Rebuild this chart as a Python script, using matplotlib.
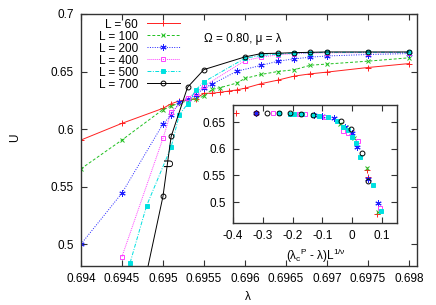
import matplotlib
matplotlib.use("Agg")
import matplotlib.pyplot as plt
from matplotlib.ticker import FixedLocator

plt.rcParams['font.family'] = ['Liberation Sans', 'DejaVu Sans']
plt.rcParams['mathtext.fontset'] = 'custom'
plt.rcParams['mathtext.rm'] = 'Liberation Sans'
plt.rcParams['mathtext.it'] = 'Liberation Sans'
plt.rcParams['mathtext.bf'] = 'Liberation Sans'

# ---------------- main panel data ----------------
labels = ["L = 60", "L = 100", "L = 200", "L = 400", "L = 500", "L = 700"]

x_L60 = [0.694, 0.6945, 0.695, 0.6951, 0.6952, 0.6953, 0.6954, 0.6955, 0.6956, 0.6957,
         0.6958, 0.6959, 0.696, 0.6962, 0.6964, 0.6966, 0.6968, 0.697, 0.6975, 0.698]
u_L60 = [0.5905, 0.6050, 0.6180, 0.6220, 0.6245, 0.6255, 0.6265, 0.6310, 0.6312, 0.6320,
         0.6330, 0.6340, 0.6355, 0.6395, 0.6425, 0.6460, 0.6480, 0.6495, 0.6535, 0.6569]

x_L100 = [0.694, 0.6945, 0.695, 0.6951, 0.6952, 0.6953, 0.6954, 0.6955, 0.6956, 0.6957,
          0.6959, 0.696, 0.6962, 0.6964, 0.6966, 0.6968, 0.697, 0.6975, 0.698]
u_L100 = [0.5655, 0.5905, 0.6170, 0.6200, 0.6225, 0.6245, 0.6265, 0.6285, 0.6345, 0.6360,
          0.6400, 0.6440, 0.6475, 0.6500, 0.6515, 0.6555, 0.6565, 0.6590, 0.6619]

x_L200 = [0.694, 0.6945, 0.695, 0.6951, 0.6952, 0.6953, 0.6954, 0.6955, 0.6956, 0.6959,
          0.6962, 0.6964, 0.6966, 0.6968, 0.697, 0.6975, 0.698]
u_L200 = [0.5000, 0.5444, 0.6044, 0.6120, 0.6235, 0.6262, 0.6293, 0.6358, 0.6390, 0.6502,
          0.6554, 0.6589, 0.6610, 0.6625, 0.6635, 0.6648, 0.6656]

x_L400 = [0.6945, 0.695, 0.6951, 0.6953, 0.6954, 0.6955, 0.696, 0.6962, 0.6964, 0.6966,
          0.6968, 0.697, 0.6975, 0.698]
u_L400 = [0.4892, 0.5919, 0.6150, 0.6270, 0.6314, 0.6372, 0.6595, 0.6625, 0.6645, 0.6655,
          0.6660, 0.6663, 0.6664, 0.6665]

x_L500 = [0.6946, 0.6948, 0.6951, 0.6952, 0.6953, 0.6954, 0.6955, 0.696, 0.6962, 0.6964,
          0.6966, 0.6968, 0.697, 0.6975, 0.698]
u_L500 = [0.4840, 0.5333, 0.5844, 0.6125, 0.6218, 0.6340, 0.6410, 0.6615, 0.6640, 0.6652,
          0.6660, 0.6664, 0.6667, 0.6667, 0.6667]

x_L700 = [0.6945, 0.695, 0.6951, 0.6953, 0.6955, 0.696, 0.6962, 0.6964, 0.6966, 0.6968,
          0.697, 0.6975, 0.698]
u_L700 = [0.3750, 0.5414, 0.5936, 0.6363, 0.6517, 0.6627, 0.6656, 0.6659, 0.6664, 0.6667,
          0.6670, 0.6670, 0.6670]

main_xticks = [0.694, 0.6945, 0.695, 0.6955, 0.696, 0.6965, 0.697, 0.6975, 0.698]
main_xticklabels = ["0.694", "0.6945", "0.695", "0.6955", "0.696", "0.6965", "0.697", "0.6975", "0.698"]
main_yticks = [0.5, 0.55, 0.6, 0.65, 0.7]
main_yticklabels = ["0.5", "0.55", "0.6", "0.65", "0.7"]

# ---------------- inset (data collapse) ----------------
ix_L60 = [-0.389, 0.048, 0.054, 0.084]
iu_L60 = [0.667, 0.561, 0.547, 0.478]
ix_L100 = [-0.040, -0.020, 0.005, 0.051, 0.087]
iu_L100 = [0.647, 0.640, 0.620, 0.564, 0.481]
ix_L200 = [-0.322, -0.130, -0.100, -0.060, -0.025, 0.000, 0.017, 0.053, 0.087]
iu_L200 = [0.667, 0.664, 0.662, 0.657, 0.640, 0.630, 0.604, 0.543, 0.499]
ix_L400 = [-0.322, -0.266, -0.180, -0.160, -0.090, -0.030, -0.014, 0.020, 0.094]
iu_L400 = [0.667, 0.667, 0.665, 0.665, 0.659, 0.634, 0.629, 0.614, 0.489]
ix_L500 = [-0.247, -0.210, -0.195, -0.170, -0.131, -0.110, -0.080, -0.050, -0.031, -0.014,
           0.000, 0.012, 0.025, 0.068, 0.098]
iu_L500 = [0.667, 0.666, 0.666, 0.665, 0.663, 0.662, 0.659, 0.652, 0.641, 0.635,
           0.622, 0.611, 0.584, 0.532, 0.484]
ix_L700 = [-0.322, -0.285, -0.247, -0.210, -0.173, -0.131, -0.039, -0.003, 0.033, 0.053]
iu_L700 = [0.667, 0.667, 0.667, 0.667, 0.666, 0.664, 0.652, 0.637, 0.593, 0.540]

inset_xticks = [-0.4, -0.3, -0.2, -0.1, 0.0, 0.1]
inset_xticklabels = ["-0.4", "-0.3", "-0.2", "-0.1", "0", "0.1"]
inset_yticks = [0.5, 0.55, 0.6, 0.65]
inset_yticklabels = ["0.5", "0.55", "0.6", "0.65"]

main_series = [(x_L60, u_L60), (x_L100, u_L100), (x_L200, u_L200),
               (x_L400, u_L400), (x_L500, u_L500), (x_L700, u_L700)]
inset_series = [(ix_L60, iu_L60), (ix_L100, iu_L100), (ix_L200, iu_L200),
                (ix_L400, iu_L400), (ix_L500, iu_L500), (ix_L700, iu_L700)]

styles = [
    dict(color='#ff2020', ls='-', marker='+', mfc='none', ms=4.5),
    dict(color='#20c020', ls=(0, (3, 2)), marker='x', mfc='none', ms=3.5),
    dict(color='#2020ff', ls=(0, (1, 1.5)), marker=(6, 2, 0), mfc='none', ms=4.5),
    dict(color='#ff40ff', ls=(0, (1, 1)), marker='s', mfc='none', ms=3.5),
    dict(color='#00e0e0', ls=(0, (4, 1.5, 1, 1.5)), marker='s', mfc='#00e0e0', ms=3.5),
    dict(color='black', ls='-', marker='o', mfc='none', ms=3.5),
]

W, H = 436, 305
fig = plt.figure(figsize=(W / 100, H / 100), dpi=100)

L0, R0, T0, B0 = 81, 417, 14, 266
ax = fig.add_axes([L0 / W, 1 - B0 / H, (R0 - L0) / W, (B0 - T0) / H])
for (xs, us), lab, st in zip(main_series, labels, styles):
    ax.plot(xs, us, label=lab, lw=0.7, mew=0.7, **st)
ax.set_xlim(0.694, 0.6981)
ax.set_ylim(0.481, 0.7)
ax.xaxis.set_major_locator(FixedLocator(main_xticks))
ax.set_xticklabels(main_xticklabels)
ax.yaxis.set_major_locator(FixedLocator(main_yticks))
ax.set_yticklabels(main_yticklabels)
ax.tick_params(direction='in', top=True, right=True, length=4, width=0.8,
               labelsize=8.5, pad=5, color='#333333')
for s in ax.spines.values():
    s.set_linewidth(1.0)
    s.set_color('#333333')
ax.set_ylabel("U", fontsize=8.5)
ax.yaxis.set_label_coords(-0.179, 0.508)
ax.set_xlabel("λ", fontsize=8.5)
ax.xaxis.set_label_coords(0.497, -0.10)
leg = ax.legend(loc='upper right', bbox_to_anchor=((180 - L0) / (R0 - L0), (B0 - 18.5) / (B0 - T0)),
                frameon=False, markerfirst=False, fontsize=8.5, handlelength=2.8,
                handletextpad=0.75, labelspacing=0.0, borderaxespad=0.0, borderpad=0.0)
for col in leg._legend_handle_box.get_children():
    col.align = 'right'
ax.text(0.367, 0.9, "Ω = 0.80, μ = λ", transform=ax.transAxes, fontsize=8.5,
        ha='left', va='center')

# inset
IL, IR, IT, IB = 233, 397, 105, 223
ins = fig.add_axes([IL / W, 1 - IB / H, (IR - IL) / W, (IB - IT) / H])
for (xs, us), st in zip(inset_series, styles):
    st2 = dict(st)
    st2['ls'] = 'none'
    ins.plot(xs, us, lw=0, mew=0.7, **st2)
ins.set_xlim(-0.4, 0.15)
ins.set_ylim(0.461, 0.682)
ins.xaxis.set_major_locator(FixedLocator(inset_xticks))
ins.set_xticklabels(inset_xticklabels)
ins.yaxis.set_major_locator(FixedLocator(inset_yticks))
ins.set_yticklabels(inset_yticklabels)
ins.tick_params(direction='in', top=True, right=True, length=4, width=0.8,
                labelsize=8.5, pad=5, color='#333333')
for s in ins.spines.values():
    s.set_linewidth(1.0)
    s.set_color('#333333')
ins.set_ylabel("U", fontsize=8.5)
ins.yaxis.set_label_coords(-0.348, 0.508)
ins.set_xlabel(r"$(\lambda_c{}^P$ - $\lambda)$L$^{1/\nu}$", fontsize=8.5)
ins.xaxis.set_label_coords(0.503, -0.20)

fig.savefig("out.png", dpi=100)
